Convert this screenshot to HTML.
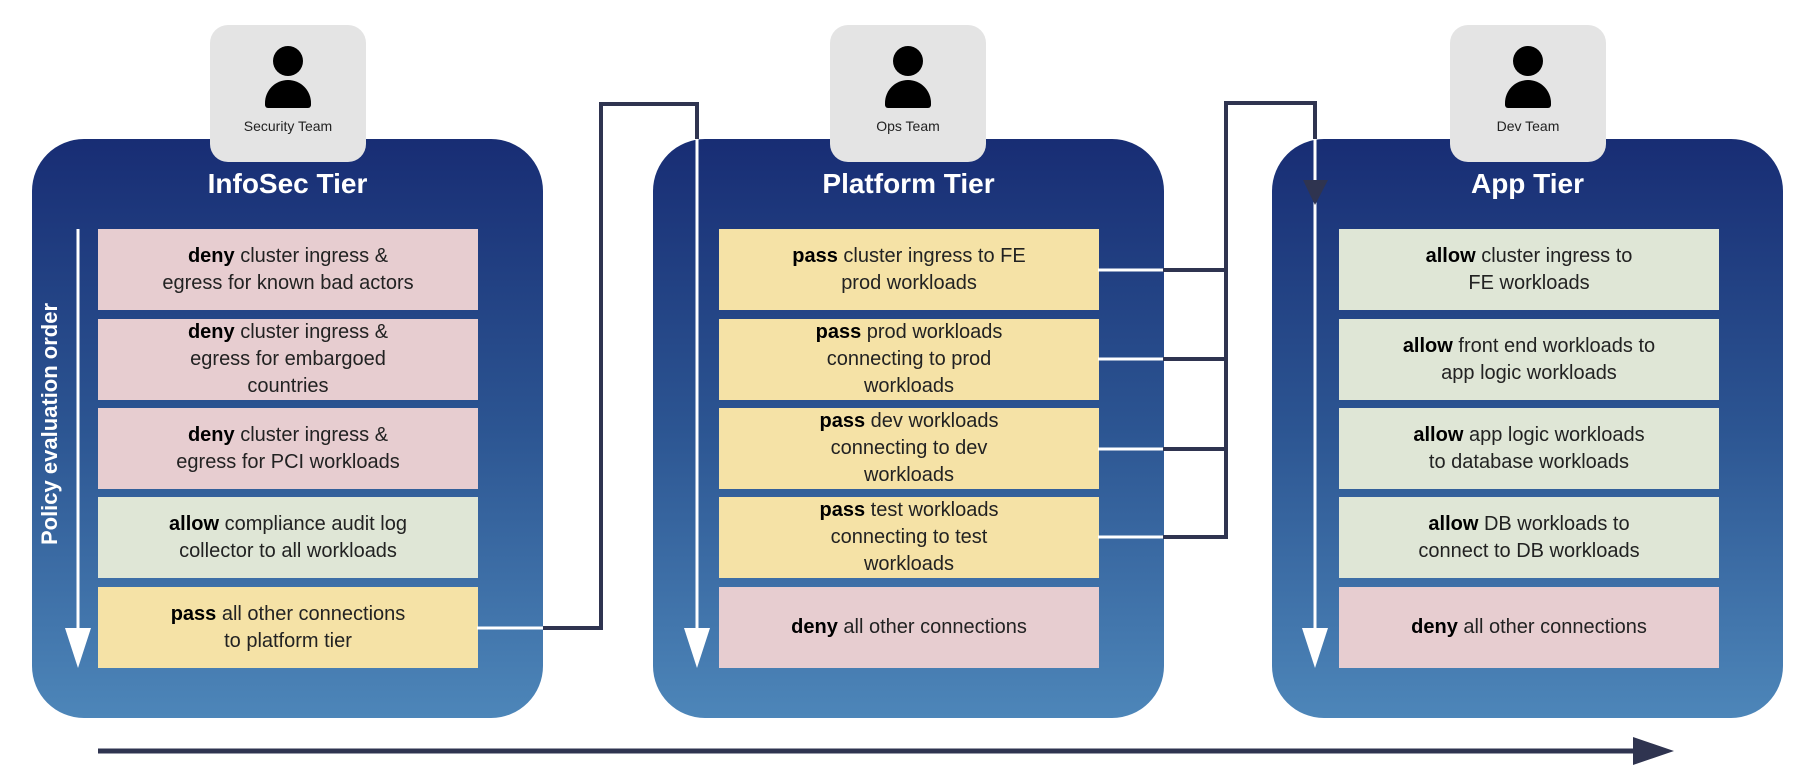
<!DOCTYPE html>
<html><head><meta charset="utf-8"><style>
body{margin:0;width:1812px;height:784px;background:#fff;position:relative;overflow:hidden;font-family:"Liberation Sans","DejaVu Sans",sans-serif}
.tier{position:absolute;top:139px;width:511px;height:579px;border-radius:52px;background:linear-gradient(#182d74,#2c5592 50%,#4d86b9)}
.title{position:absolute;top:168px;width:511px;text-align:center;color:#fff;font-size:28px;font-weight:bold}
.team{position:absolute;top:25px;width:156px;height:137px;border-radius:18px;background:#e4e4e4;z-index:3}
.team .h{position:absolute;left:63px;top:21px;width:30px;height:30px;border-radius:50%;background:#000}
.team .b{position:absolute;left:55px;top:55px;width:46px;height:28px;border-radius:23px 23px 3px 3px;background:#000}
.team .t{position:absolute;top:93px;width:100%;text-align:center;font-size:14px;color:#222}
.row{position:absolute;width:380px;height:81px;display:flex;align-items:center;justify-content:center;text-align:center;font-size:20px;line-height:27px;color:#222;z-index:2}
.deny{background:#e7cdd0}.allow{background:#dfe6d6}.pass{background:#f5e2a6}
.row b{color:#000}
svg{position:absolute;left:0;top:0;z-index:4}
.vt{position:absolute;left:50px;top:424px;transform:translate(-50%,-50%) rotate(-90deg);color:#fff;font-size:22px;font-weight:bold;white-space:nowrap;z-index:2}
</style></head><body>
<div class="tier" style="left:32px"></div>
<div class="tier" style="left:653px"></div>
<div class="tier" style="left:1272px"></div>
<div class="title" style="left:32px">InfoSec Tier</div>
<div class="title" style="left:653px">Platform Tier</div>
<div class="title" style="left:1272px">App Tier</div>
<div class="team" style="left:210px"><div class="h"></div><div class="b"></div><div class="t">Security Team</div></div>
<div class="team" style="left:830px"><div class="h"></div><div class="b"></div><div class="t">Ops Team</div></div>
<div class="team" style="left:1450px"><div class="h"></div><div class="b"></div><div class="t">Dev Team</div></div>
<div class="vt">Policy evaluation order</div>

<div class="row deny" style="left:98px;top:229px"><div><b>deny</b> cluster ingress &amp;<br>egress for known bad actors</div></div>
<div class="row deny" style="left:98px;top:319px"><div><b>deny</b> cluster ingress &amp;<br>egress for embargoed<br>countries</div></div>
<div class="row deny" style="left:98px;top:408px"><div><b>deny</b> cluster ingress &amp;<br>egress for PCI workloads</div></div>
<div class="row allow" style="left:98px;top:497px"><div><b>allow</b> compliance audit log<br>collector to all workloads</div></div>
<div class="row pass" style="left:98px;top:587px"><div><b>pass</b> all other connections<br>to platform tier</div></div>

<div class="row pass" style="left:719px;top:229px"><div><b>pass</b> cluster ingress to FE<br>prod workloads</div></div>
<div class="row pass" style="left:719px;top:319px"><div><b>pass</b> prod workloads<br>connecting to prod<br>workloads</div></div>
<div class="row pass" style="left:719px;top:408px"><div><b>pass</b> dev workloads<br>connecting to dev<br>workloads</div></div>
<div class="row pass" style="left:719px;top:497px"><div><b>pass</b> test workloads<br>connecting to test<br>workloads</div></div>
<div class="row deny" style="left:719px;top:587px"><div><b>deny</b> all other connections</div></div>

<div class="row allow" style="left:1339px;top:229px"><div><b>allow</b> cluster ingress to<br>FE workloads</div></div>
<div class="row allow" style="left:1339px;top:319px"><div><b>allow</b> front end workloads to<br>app logic workloads</div></div>
<div class="row allow" style="left:1339px;top:408px"><div><b>allow</b> app logic workloads<br>to database workloads</div></div>
<div class="row allow" style="left:1339px;top:497px"><div><b>allow</b> DB workloads to<br>connect to DB workloads</div></div>
<div class="row deny" style="left:1339px;top:587px"><div><b>deny</b> all other connections</div></div>

<svg width="1812" height="784">
<g stroke="#fff" stroke-width="3" fill="none">
<line x1="78" y1="229" x2="78" y2="640"/>
<line x1="697" y1="139" x2="697" y2="640"/>
<line x1="1315" y1="139" x2="1315" y2="640"/>
<line x1="477" y1="628" x2="543" y2="628"/>
<line x1="1098" y1="270" x2="1163" y2="270"/>
<line x1="1098" y1="359" x2="1163" y2="359"/>
<line x1="1098" y1="449" x2="1163" y2="449"/>
<line x1="1098" y1="537" x2="1163" y2="537"/>
</g>
<g fill="#fff"><polygon points="65,628 91,628 78,668"/><polygon points="684,628 710,628 697,668"/><polygon points="1302,628 1328,628 1315,668"/></g>
<g stroke="#2f3450" stroke-width="4" fill="none">
<polyline points="543,628 601,628 601,104 697,104 697,139"/>
<polyline points="1163,270 1226,270"/>
<polyline points="1163,359 1226,359"/>
<polyline points="1163,449 1226,449"/>
<polyline points="1163,537 1226,537 1226,103 1315,103 1315,139"/>
<line x1="98" y1="751" x2="1640" y2="751" stroke-width="5"/>
</g>
<polygon points="1303,180 1328,180 1315,205" fill="#2f3450"/>
<polygon points="1633,737 1674,751 1633,765" fill="#2f3450"/>
</svg>
</body></html>
